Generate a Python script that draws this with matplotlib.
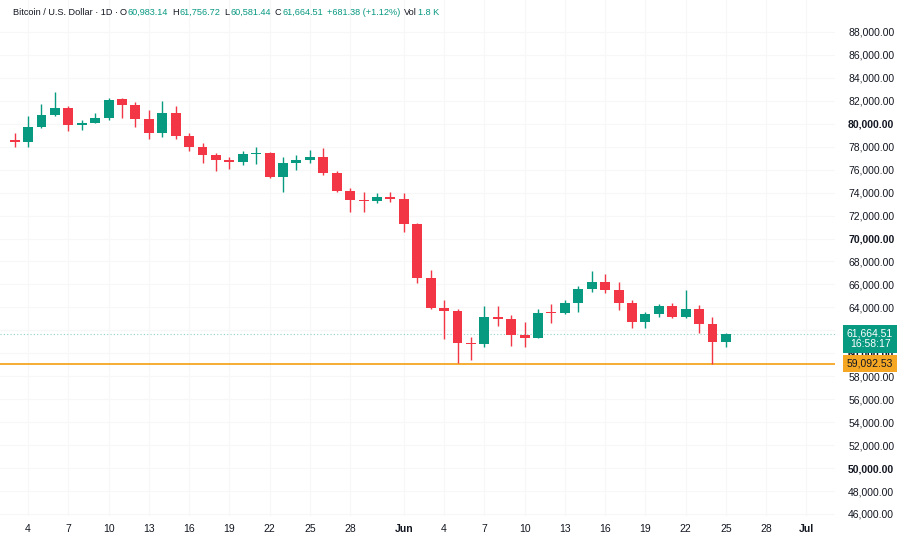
import numpy as np
import pandas as pd
import matplotlib
matplotlib.use('Agg')
import matplotlib.pyplot as plt
import matplotlib.dates as mdates
import matplotlib.transforms as mtransforms

plt.rcParams['font.family'] = ['Liberation Sans', 'DejaVu Sans']

# daily candles, 3 May .. 25 Jun
dates = pd.date_range('2024-05-03', periods=54, freq='D')
opens = [78600, 78450, 79750, 80770, 81350, 79900, 80100, 80530, 82130, 81640,
         80390, 79170, 80970, 78940, 77980, 77280, 76850, 76650, 77370, 77430,
         75340, 76560, 76850, 77130, 75690, 74170, 73360, 73250, 73650,
         73450, 71240, 66590, 63980, 63710, 60930, 60790, 63190, 63020, 61600,
         61360, 63530, 63480, 64360, 65600, 66190, 65520, 64360, 62760, 63400,
         64120, 63140, 63840, 62560, 60983.14]
highs = [79200, 80680, 81700, 82750, 81580, 80300, 80900, 82280, 82220, 81930,
         81200, 82010, 81550, 79170, 78300, 77480, 77130, 77660, 78000, 77570,
         77130, 77280, 77720, 77870, 75910, 74380, 74030, 73940, 74030,
         73950, 71330, 67260, 64650, 63840, 61450, 64150, 64120, 63340, 62700,
         63840, 64300, 64650, 65870, 67170, 66910, 66240, 64650, 63630, 64270,
         64410, 65520, 64210, 63140, 61756.72]
lows = [78000, 78000, 79650, 80700, 79370, 79450, 80050, 80330, 80480, 79750,
        78680, 78820, 78650, 77630, 76610, 75910, 76040, 76410, 76500, 75250,
        74080, 76000, 76610, 75540, 74080, 72340, 72340, 73070, 73210,
        70600, 66100, 63860, 61250, 59150, 59420, 60580, 62380, 60640, 60580,
        61310, 62620, 63430, 63630, 65370, 65230, 63780, 62180, 62180, 63140,
        63050, 63050, 61800, 59092.53, 60581.44]
closes = [78450, 79750, 80770, 81350, 79900, 80100, 80530, 82070, 81640, 80390,
          79170, 80970, 78940, 77980, 77280, 76850, 76650, 77370, 77430, 75340,
          76560, 76850, 77130, 75690, 74170, 73360, 73250, 73650, 73450,
          71240, 66590, 63980, 63710, 60930, 60790, 63190, 63020, 61600, 61360,
          63490, 63480, 64360, 65600, 66190, 65520, 64360, 62760, 63400, 64120,
          63140, 63840, 62560, 60983.13, 61664.51]

last_price = 61664.51
last_time = '16:58:17'
low_line = 59092.53
header_name = 'Bitcoin / U.S. Dollar \u00b7 1D \u00b7'
header_parts = [('O', '60,983.14'), ('H', '61,756.72'), ('L', '60,581.44'), ('C', '61,664.51'),
                ('', '+681.38 (+1.12%)'), ('Vol', '1.8 K')]

tick_dates = ['2024-05-04', '2024-05-07', '2024-05-10', '2024-05-13', '2024-05-16',
              '2024-05-19', '2024-05-22', '2024-05-25', '2024-05-28', '2024-06-01',
              '2024-06-04', '2024-06-07', '2024-06-10', '2024-06-13', '2024-06-16',
              '2024-06-19', '2024-06-22', '2024-06-25', '2024-06-28', '2024-07-01']
tick_labels = ['4', '7', '10', '13', '16', '19', '22', '25', '28', 'Jun',
               '4', '7', '10', '13', '16', '19', '22', '25', '28', 'Jul']
price_ticks = np.arange(46000, 88001, 2000)

GREEN = '#089981'
RED = '#f23645'
ORANGE = '#f5a623'
TEXT = '#131722'

fig = plt.figure(figsize=(9.12, 5.46), dpi=100)
ax = fig.add_axes([0, 0.055, 0.9156, 0.945])

x = mdates.date2num(dates)
o = np.array(opens)
h = np.array(highs)
l = np.array(lows)
c = np.array(closes)
cols = np.where(c >= o, GREEN, RED)

ax.vlines(x, l, h, colors=cols, linewidth=1, zorder=3)
body = np.maximum(np.abs(c - o), 110)
ax.bar(x, body, bottom=np.minimum(o, c), width=0.74, color=cols, zorder=4)

# price lines
ax.axhline(last_price, color=GREEN, lw=0.8, ls=(0, (1, 2)), alpha=0.45, zorder=2)
ax.axhline(low_line, color=ORANGE, lw=1.3, zorder=2)

x0 = mdates.date2num(pd.Timestamp('2024-05-04'))
ax.set_xlim(x0 - 2.09, x0 + 60.13)
ax.set_ylim(45824, 90788)

tx = mdates.date2num(pd.to_datetime(tick_dates))
ax.set_xticks(tx)
ax.set_xticklabels(tick_labels)
ax.set_yticks(price_ticks)
ax.set_yticklabels(['{:,.2f}'.format(v) for v in price_ticks])
ax.yaxis.tick_right()
ax.tick_params(axis='both', length=0, labelsize=7.5, labelcolor=TEXT)
ax.tick_params(axis='x', pad=6)
ax.tick_params(axis='y', pad=9.4)
for lab in ax.get_xticklabels():
    if lab.get_text() in ('Jun', 'Jul'):
        lab.set_fontweight('bold')
for lab, v in zip(ax.get_yticklabels(), price_ticks):
    if v % 10000 == 0:
        lab.set_fontweight('bold')

ax.grid(True, color='#f7f7f7', lw=0.8, zorder=0)
for s in ax.spines.values():
    s.set_visible(False)

# right side price tags
blend = mtransforms.blended_transform_factory(ax.transAxes, ax.transData)
ax.text(1.042, last_price, '{:,.2f}\n{}'.format(last_price, last_time),
        transform=mtransforms.offset_copy(blend, fig, y=-4.5, units='dots'),
        ha='center', va='center', fontsize=7.5, color='white', linespacing=1.05,
        bbox=dict(boxstyle='square,pad=0.35', fc=GREEN, ec='none'), zorder=10, clip_on=False)
ax.text(1.042, low_line, '{:,.2f}'.format(low_line), transform=blend,
        ha='center', va='center', fontsize=7.5, color=TEXT,
        bbox=dict(boxstyle='square,pad=0.35', fc=ORANGE, ec='none'), zorder=10, clip_on=False)

# header line: place each piece right after the previous one
renderer = fig.canvas.get_renderer()
hy = 1 - 15 / 546
cur = 13


def put(s, color, gap):
    global cur
    cur += gap
    t = fig.text(cur / 912, hy, s, fontsize=6.6, color=color, va='baseline')
    cur = t.get_window_extent(renderer).x1


put(header_name, TEXT, 0)
for i, (key, val) in enumerate(header_parts):
    if key:
        put(key, TEXT, 2 if i == 0 else 4)
        put(val, GREEN, 0.8)
    else:
        put(val, GREEN, 4)

fig.savefig('out.png', dpi=100)
